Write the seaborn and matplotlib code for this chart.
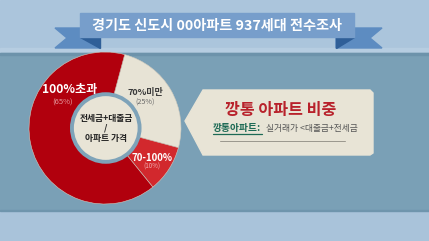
import matplotlib
matplotlib.use("Agg")
import matplotlib.pyplot as plt
from matplotlib.patches import Polygon, Rectangle, Circle
import seaborn as sns

sns.set_theme(style="white")
plt.rcParams['font.family'] = ['Noto Sans CJK KR', 'DejaVu Sans']

# ---- data ----
categories = ["70%미만", "70-100%", "100%초과"]
shares = [25, 10, 65]
share_labels = ["(25%)", "(10%)", "(65%)"]
slice_colors = ["#e7e3d5", "#d2282d", "#b1000d"]
title = "경기도 신도시 00아파트 937세대 전수조사"
center_lines = ["전세금+대출금", "/", "아파트 가격"]
box_title = "깡통 아파트 비중"
box_term = "깡통아파트:"
box_def = "실거래가 <대출금+전세금"

W, H = 429, 241
fig = plt.figure(figsize=(W / 100, H / 100), dpi=100)

# background axes in pixel coordinates
bg = fig.add_axes([0, 0, 1, 1])
bg.set_xlim(0, W)
bg.set_ylim(H, 0)
bg.axis("off")
bg.add_patch(Rectangle((0, 0), W, 54, color="#abc5dc", zorder=0))
bg.add_patch(Rectangle((0, 48), W, 5, color="#b6cde1", zorder=0))
bg.add_patch(Rectangle((0, 53), W, 158, color="#7aa0b6", zorder=0))
bg.add_patch(Rectangle((0, 53), W, 1.5, color="#6d93ab", zorder=0))
bg.add_patch(Rectangle((0, 211), W, 30, color="#a9c3da", zorder=0))
bg.add_patch(Rectangle((0, 210), W, 1.2, color="#6f95ad", zorder=0))

# ribbon banner
bg.add_patch(Polygon([(55, 28), (100, 28), (100, 48), (55, 48), (67, 38)],
                     closed=True, color="#5d8cc1", zorder=1))
bg.add_patch(Polygon([(80, 37), (100, 37), (100, 48)], closed=True,
                     color="#2f5f98", zorder=2))
bg.add_patch(Polygon([(382, 28), (336, 28), (336, 48), (382, 48), (370, 38)],
                     closed=True, color="#5d8cc1", zorder=1))
bg.add_patch(Polygon([(354, 37), (336, 37), (336, 48)], closed=True,
                     color="#2f5f98", zorder=2))
bg.add_patch(Rectangle((80, 13), 274, 24, color="#779ecb", zorder=3))
bg.text(217, 25.5, title, ha="center", va="center", color="white",
        fontsize=10.2, fontweight="bold", zorder=4)

# callout box
bg.add_patch(Polygon([(185, 121), (203, 90), (370, 90), (373, 93), (373, 153),
                      (370, 155), (203, 155)],
                     closed=True, color="#e8e4d6", zorder=1))
bg.text(281, 110, box_title, ha="center", va="center", color="#b8212b",
        fontsize=11.6, fontweight="bold", zorder=4)
bg.text(213, 128, box_term, ha="left", va="center", color="#1d6a55",
        fontsize=7.0, fontweight="bold", zorder=4)
bg.plot([213, 262], [134, 134], color="#1d6a55", lw=0.9, zorder=4)
bg.text(266, 128, box_def, ha="left", va="center", color="#555555",
        fontsize=6.3, zorder=4)
bg.plot([220, 345], [141, 141], color="#9a978d", lw=0.7, zorder=4)

# donut
cx, cy, r = 105, 128, 76
pie_ax = fig.add_axes([(cx - r) / W, (H - cy - r) / H, 2 * r / W, 2 * r / H])
pie_ax.pie(shares, colors=slice_colors, startangle=75, counterclock=False,
           radius=1.0, wedgeprops=dict(edgecolor="#cfcabd", linewidth=0.4))
pie_ax.add_patch(Circle((0.01, 0.0), 0.445, facecolor="#e8e4d6",
                        edgecolor="#7ea3b9", linewidth=2.8, zorder=5))
pie_ax.set_xlim(-1, 1)
pie_ax.set_ylim(-1, 1)
pie_ax.axis("off")

# overlay for labels
ov = fig.add_axes([0, 0, 1, 1])
ov.set_xlim(0, W)
ov.set_ylim(H, 0)
ov.axis("off")
ov.patch.set_alpha(0)

ov.text(70, 90, categories[2], ha="center", va="center", color="white",
        fontsize=8.7, fontweight="bold")
ov.text(63, 102.5, share_labels[2], ha="center", va="center", color="#e59a9e",
        fontsize=5.5)
ov.text(145, 93, categories[0], ha="center", va="center", color="#3a3a3a",
        fontsize=6.5, fontweight="bold")
ov.text(145, 103, share_labels[0], ha="center", va="center", color="#6a6a6a",
        fontsize=5.2)
ov.text(152, 158, categories[1], ha="center", va="center", color="white",
        fontsize=6.9, fontweight="bold")
ov.text(152, 167, share_labels[1], ha="center", va="center", color="#f2b0b2",
        fontsize=4.5)
for txt, yy in zip(center_lines, [118, 128, 138]):
    ov.text(106, yy, txt, ha="center", va="center", color="#222222",
            fontsize=6.3, fontweight="bold")

fig.savefig("out.png", dpi=100)
